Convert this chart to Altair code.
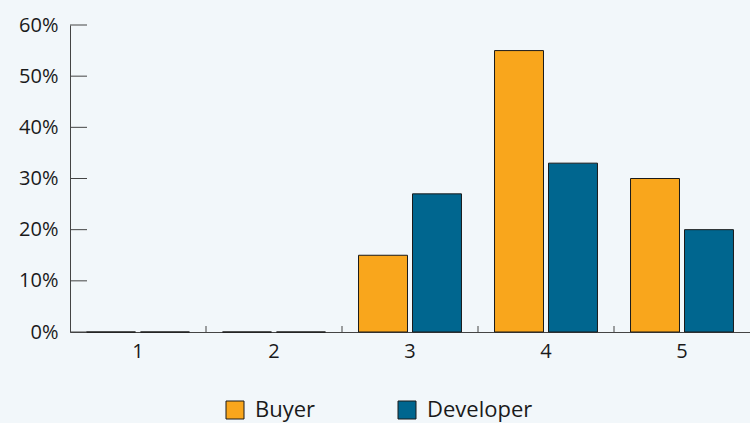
import altair as alt
import pandas as pd

categories = ["1", "2", "3", "4", "5"]
buyer = [0.0, 0.0, 0.15, 0.55, 0.30]
developer = [0.0, 0.0, 0.27, 0.33, 0.20]
series = ["Buyer", "Developer"]
y_ticks = [0.0, 0.1, 0.2, 0.3, 0.4, 0.5, 0.6]
x_boundaries = ["2", "3", "4", "5"]

rows = []
for c, b, d in zip(categories, buyer, developer):
    rows.append({"cat": c, "series": "Buyer", "value": b})
    rows.append({"cat": c, "series": "Developer", "value": d})
df = pd.DataFrame(rows)

FONT = "Open Sans"
TEXT = "#1a1a1a"
AXIS = "#444444"

xscale = alt.Scale(domain=categories, paddingInner=0, paddingOuter=0)
yscale = alt.Scale(domain=[0, 0.6])

bars = alt.Chart(df).mark_bar(stroke="#1a1a1a", strokeWidth=1).encode(
    x=alt.X("cat:N", scale=xscale, sort=categories,
            axis=alt.Axis(title=None, labelAngle=0, ticks=False, domainColor=AXIS,
                          labelFontSize=20, labelFont=FONT, labelColor=TEXT, labelPadding=9)),
    xOffset=alt.XOffset("series:N", sort=series,
                        scale=alt.Scale(paddingInner=0.093, paddingOuter=0.306)),
    y=alt.Y("value:Q", scale=yscale,
            axis=alt.Axis(title=None, values=y_ticks, format=".0%", ticks=False, grid=False,
                          domainColor=AXIS, labelFontSize=20, labelFont=FONT,
                          labelColor=TEXT, labelPadding=12)),
    color=alt.Color("series:N", sort=series,
                    scale=alt.Scale(domain=series, range=["#f9a61c", "#00668f"]),
                    legend=alt.Legend(title=None, orient="none", direction="horizontal",
                                      legendX=154, legendY=374, symbolType="square",
                                      symbolSize=324, symbolStrokeColor="#1a1a1a",
                                      symbolStrokeWidth=1, labelFontSize=22, labelFont=FONT,
                                      labelColor=TEXT, labelOffset=9, columnPadding=80)),
)

ytick_df = pd.DataFrame({"v": y_ticks})
yticks = alt.Chart(ytick_df).mark_rule(color=AXIS, strokeWidth=1).encode(
    y=alt.Y("v:Q", scale=yscale),
    x=alt.value(0), x2=alt.value(17),
)

xtick_df = pd.DataFrame({"cat": x_boundaries})
xticks = alt.Chart(xtick_df).mark_rule(color=AXIS, strokeWidth=1).encode(
    x=alt.X("cat:N", scale=xscale, bandPosition=0),
    y=alt.value(307), y2=alt.value(301),
)

chart = alt.layer(bars, yticks, xticks).properties(
    width=680, height=307,
    padding={"left": 70, "top": 25, "right": 0, "bottom": 91},
    autosize=alt.AutoSizeParams(type="none"),
    background="#f2f7fa",
).configure_view(stroke=None)

chart.save("out.html", embed_options={"renderer": "svg", "actions": False})
